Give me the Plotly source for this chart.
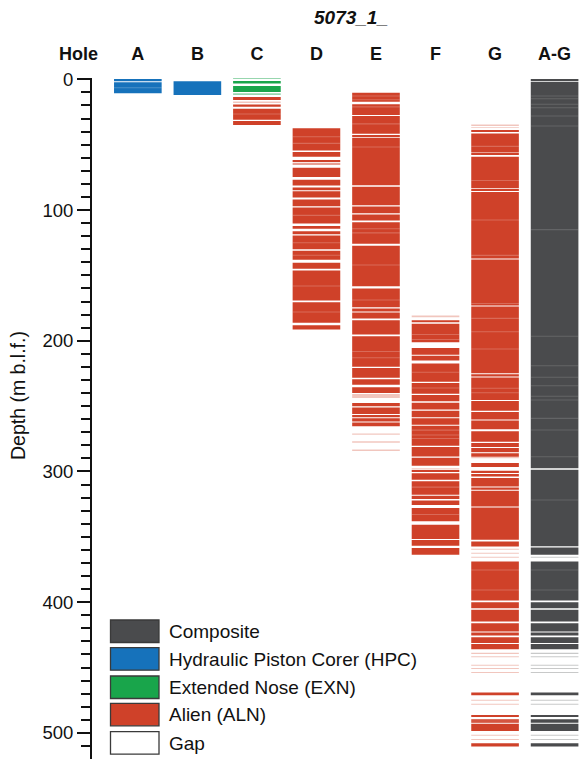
import plotly.graph_objects as go

# ---------------- data (depths in m b.l.f.) ----------------
holes = ['A', 'B', 'C', 'D', 'E', 'F', 'G', 'A-G']

# recovered core intervals (top, bottom); *_faint = very low recovery; *_breaks = section breaks
A_hpc = [(0.0, 1.4), (2.2, 10.7)]
A_breaks = [6.5]
B_hpc = [(1.5, 12.0)]
C_exn = [(1.8, 3.3), (5.1, 9.7)]
C_exn_faint = [(-1.0, -0.2), (10.7, 12.0)]
C_aln = [(13.5, 15.8), (19.3, 21.0), (22.5, 31.0), (31.9, 35.0)]
C_aln_faint = [(17.0, 18.2)]
C_breaks = [26.5]

D_aln = [(37.5, 54.4), (55.7, 59.2), (61.8, 63.3), (67.6, 74.8), (76.8, 81.2), (82.7, 84.9),
         (85.7, 90.4), (91.9, 97.2), (98.0, 110.3), (112.8, 114.3), (116.2, 118.6), (119.4, 130.0),
         (131.2, 138.1), (140.4, 145.0), (146.3, 169.2), (170.5, 186.3), (188.2, 191.5)]
D_aln_faint = [(63.8, 65.6)]
D_breaks = [43.9, 49.0, 104.1, 125.1, 134.6, 158.1, 178.1]

E_aln = [(10.2, 17.1), (19.1, 27.3), (28.1, 41.6), (42.7, 43.9), (44.7, 81.0), (82.2, 96.3),
         (97.3, 102.4), (103.4, 108.0), (109.3, 125.8), (127.4, 158.3), (160.1, 174.4),
         (175.4, 177.7), (178.4, 183.0), (184.3, 195.3), (196.6, 220.0), (220.8, 228.4),
         (229.5, 233.6), (235.6, 239.9), (247.6, 250.2), (251.0, 256.0), (257.1, 258.6),
         (259.4, 261.7), (262.5, 265.5)]
E_aln_faint = [(240.7, 243.8), (271.0, 272.0), (277.0, 278.0), (283.3, 284.3)]
E_breaks = [12.7, 15.6, 21.1, 34.1, 51.8, 114.4, 117.5, 142.1, 168.8, 208.2, 213.1]

F_aln = [(184.3, 185.9), (187.1, 201.1), (205.5, 210.7), (211.5, 215.2), (217.5, 231.3),
         (232.3, 240.5), (241.5, 246.3), (247.4, 252.7), (253.5, 258.6), (259.4, 264.2),
         (265.0, 280.3), (281.3, 288.5), (289.5, 295.6), (299.3, 300.5), (301.3, 306.3),
         (307.6, 317.8), (318.6, 321.1), (322.2, 325.7), (328.0, 338.2), (340.8, 351.7),
         (352.5, 356.9), (358.6, 363.8)]
F_aln_faint = [(180.7, 182.0), (297.6, 298.5)]
F_breaks = [195.2, 199.1, 224.1, 236.1, 268.4, 272.2, 274.8, 312.0, 333.0]

G_aln = [(38.8, 40.4), (41.4, 56.0), (56.8, 58.0), (59.2, 83.4), (84.2, 85.5), (86.3, 137.0),
         (137.8, 173.0), (173.8, 224.8), (225.6, 227.3), (228.1, 245.3), (246.1, 253.5),
         (254.5, 260.3), (261.1, 267.8), (269.3, 277.2), (278.2, 281.3), (282.1, 285.3),
         (286.1, 288.7), (293.5, 296.6), (299.4, 301.2), (302.0, 303.8), (305.0, 311.5),
         (312.3, 314.0), (314.8, 326.8), (327.6, 352.3), (353.6, 357.4), (368.9, 398.8),
         (400.0, 404.6), (405.9, 414.8), (416.1, 422.5), (423.3, 425.5), (426.8, 431.3),
         (432.1, 436.0), (469.2, 471.2), (486.5, 487.6), (489.6, 492.2), (493.0, 498.5),
         (508.0, 510.5)]
G_aln_faint = [(34.5, 35.8), (36.4, 37.1), (288.9, 290.0), (359.2, 360.0), (362.2, 363.0),
               (365.2, 366.0), (438.8, 439.6), (441.4, 442.2), (447.8, 448.6), (450.3, 451.1),
               (453.4, 454.2), (474.6, 475.4), (477.7, 478.5), (501.4, 502.2), (504.7, 505.5)]
G_breaks = [51.3, 77.4, 107.6, 134.7, 171.5, 182.9, 193.1, 206.4, 236.4, 239.8, 285.5,
            375.4, 390.7, 491.0]

AG_comp = [(0.0, 1.4), (2.0, 297.6), (298.7, 357.2), (358.2, 363.8), (368.9, 398.8),
           (400.0, 404.6), (405.9, 414.8), (416.1, 422.5), (423.3, 425.5), (426.8, 431.3),
           (432.1, 436.0), (469.2, 471.2), (486.5, 487.6), (489.6, 492.2), (493.0, 498.5),
           (508.0, 510.5)]
AG_comp_faint = [(365.2, 366.0), (438.8, 439.6), (441.4, 442.2), (447.8, 448.6),
                 (450.3, 451.1), (453.4, 454.2), (474.6, 475.4), (477.7, 478.5), (501.4, 502.2),
                 (504.7, 505.5)]
AG_breaks = [12.8, 14.8, 19.1, 21.7, 28.0, 35.7, 115.0, 196.6, 219.2, 228.0, 234.4, 242.5,
             245.4, 259.4, 268.3, 288.7, 321.9, 375.4, 390.7]

legend_labels = ['Composite', 'Hydraulic Piston Corer (HPC)', 'Extended Nose (EXN)', 'Alien (ALN)', 'Gap']

# ---------------- styles ----------------
COL = {'comp': '#4a4b4d', 'hpc': '#1672bb', 'exn': '#19a54b', 'aln': '#cf4129', 'gap': '#ffffff'}
legend_colors = [COL['comp'], COL['hpc'], COL['exn'], COL['aln'], COL['gap']]
FONT = 'Liberation Sans, Arial, sans-serif'

W, H = 579, 759
ML, MT = 92, 78
PW, PH = W - ML, H - MT


def px2x(px):
    return (px - ML) / PW


def py2y(py):
    return (H - py) / PH


def rgba(hexcol, a):
    h = hexcol.lstrip('#')
    r, g, b = int(h[0:2], 16), int(h[2:4], 16), int(h[4:6], 16)
    return f'rgba({r},{g},{b},{a})'


fig = go.Figure()


def add_cores(hole, intervals, color, alpha=1.0):
    xi = holes.index(hole)
    fig.add_trace(go.Bar(
        x=[xi] * len(intervals),
        base=[t for t, b in intervals],
        y=[b - t for t, b in intervals],
        width=0.8,
        marker=dict(color=color if alpha >= 1 else rgba(color, alpha), line=dict(width=0)),
        hoverinfo='skip', showlegend=False))


def add_breaks(hole, depths, alpha=0.22):
    add_cores(hole, [(d - 0.4, d + 0.4) for d in depths], '#ffffff', alpha)


FA = 0.3
add_cores('A', A_hpc, COL['hpc'])
add_breaks('A', A_breaks)
add_cores('B', B_hpc, COL['hpc'])
add_cores('C', C_exn, COL['exn'])
add_cores('C', C_exn_faint, COL['exn'], 0.45)
add_cores('C', C_aln, COL['aln'])
add_cores('C', C_aln_faint, COL['aln'], FA)
add_breaks('C', C_breaks)
add_cores('D', D_aln, COL['aln'])
add_cores('D', D_aln_faint, COL['aln'], 0.5)
add_breaks('D', D_breaks)
add_cores('E', E_aln, COL['aln'])
add_cores('E', E_aln_faint, COL['aln'], FA)
add_breaks('E', E_breaks)
add_cores('F', F_aln, COL['aln'])
add_cores('F', F_aln_faint, COL['aln'], FA)
add_breaks('F', F_breaks)
add_cores('G', G_aln, COL['aln'])
add_cores('G', G_aln_faint, COL['aln'], FA)
add_breaks('G', G_breaks)
add_cores('A-G', AG_comp, COL['comp'])
add_cores('A-G', AG_comp_faint, COL['comp'], FA)
add_breaks('A-G', AG_breaks, 0.14)

shapes = []
annotations = []

# legend (boxes + text)
box_tops = [620, 647.7, 676, 703.3, 731.7]
for lab, col, top in zip(legend_labels, legend_colors, box_tops):
    shapes.append(dict(type='rect', xref='paper', yref='paper',
                       x0=px2x(110.5), x1=px2x(159), y0=py2y(top), y1=py2y(top + 22.5),
                       fillcolor=col, line=dict(color='#3a3a3a', width=1.3), layer='above'))
    annotations.append(dict(text=lab, xref='paper', yref='paper', x=px2x(167), y=py2y(top + 11.5),
                            xanchor='left', yanchor='middle', showarrow=False,
                            font=dict(family=FONT, size=19, color='#111')))

# 'Hole' header
annotations.append(dict(text='<b>Hole</b>', xref='paper', yref='paper', x=px2x(78), y=py2y(54),
                        xanchor='center', yanchor='middle', showarrow=False,
                        font=dict(family=FONT, size=18, color='#111')))
# title
annotations.append(dict(text='<b><i>5073_1_</i></b>', xref='paper', yref='paper', x=px2x(351), y=py2y(18),
                        xanchor='center', yanchor='middle', showarrow=False,
                        font=dict(family=FONT, size=19, color='#111')))
# y-axis title
annotations.append(dict(text='Depth (m b.l.f.)', xref='paper', yref='paper', x=px2x(18), y=py2y(396),
                        xanchor='center', yanchor='middle', textangle=-90, showarrow=False,
                        font=dict(family=FONT, size=19.5, color='#111')))

fig.update_layout(
    width=W, height=H,
    margin=dict(l=ML, r=0, t=MT, b=0, pad=0),
    paper_bgcolor='white', plot_bgcolor='white',
    barmode='overlay',
    shapes=shapes, annotations=annotations,
    font=dict(family=FONT, color='#111'),
    xaxis=dict(range=[-0.77, 7.41], side='top', tickmode='array',
               tickvals=list(range(len(holes))), ticktext=[f'<b>{h}</b>' for h in holes],
               tickfont=dict(family=FONT, size=18, color='#111'),
               ticks='', showline=False, showgrid=False, zeroline=False,
               ticklabelstandoff=13, fixedrange=True),
    yaxis=dict(range=[520, -1], autorange=False, showline=True, linecolor='#111', linewidth=2,
               ticks='outside', ticklen=13, tickwidth=2, tickcolor='#111',
               tickmode='array', tickvals=[0, 100, 200, 300, 400, 500],
               minor=dict(tickmode='array', tickvals=list(range(0, 520, 10)),
                          ticks='outside', ticklen=9, tickwidth=2, tickcolor='#111', showgrid=False),
               tickfont=dict(family=FONT, size=18.5, color='#111'),
               showgrid=False, zeroline=False, fixedrange=True),
)

fig.write_html('out.html', config={'displayModeBar': False},
               post_script="document.body.style.margin='0px';document.body.style.overflow='hidden';")
